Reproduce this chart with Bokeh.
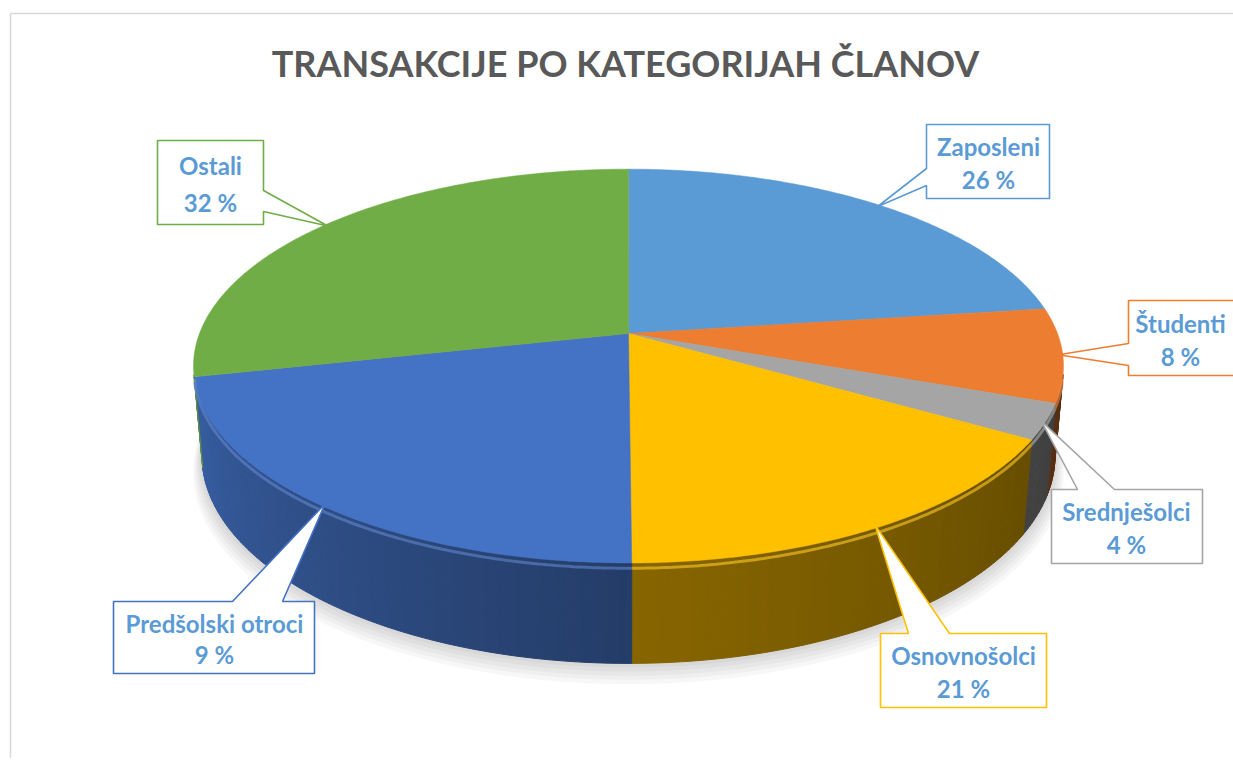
import math
from bokeh.plotting import figure
from bokeh.models import Range1d, ColumnDataSource
from bokeh.core.properties import value
from bokeh.embed import file_html
from bokeh.resources import INLINE

# ---------------- data ----------------
title_text = "TRANSAKCIJE PO KATEGORIJAH ČLANOV"
categories = ["Zaposleni", "Študenti", "Srednješolci", "Osnovnošolci", "Predšolski otroci", "Ostali"]
# slice sizes as drawn in the picture (share of the full circle, %)
shares = [22.9, 7.7, 2.9, 16.4, 21.6, 28.5]
# data-label texts as printed on the chart
pct_labels = ["26 %", "8 %", "4 %", "21 %", "9 %", "32 %"]
colors = ["#5B9BD5", "#ED7D31", "#A5A5A5", "#FFC000", "#4472C4", "#70AD47"]

# ---------------- layout / style ----------------
W, H = 1233, 758
X0, Y0 = 0, 0
CX, CY = 628.0, 333.0          # screen position of the pie centre
SIN_PHI = 0.4465               # camera elevation
COS_PHI = math.sqrt(1 - SIN_PHI ** 2)
K = 0.1653                     # perspective strength
D = COS_PHI / K                # camera distance (radius = 1)
F = 429.0 * D                  # focal scale
T = 0.235                      # thickness of the pie (radius = 1)

LABEL_COLOR = "#5B9BD5"
FONT = value("Lato")

# callout boxes (x0, y0, x1, y1), pointer side, pointer base, text x
callouts = [
    ((926, 124, 1049, 198), "left", (168, 185), 988),
    ((1128, 300, 1245, 375), "left", (343, 365), 1180),
    ((1051, 489, 1202, 563), "top", (1077, 1114), 1126),
    ((880, 633, 1046, 707), "top", (908, 949), 963),
    ((113, 601, 314, 673), "top", (232, 282), 214),
    ((157, 140, 263, 224), "right", (190, 211), 210),
]


def proj(theta_deg, h=0.0, r=1.0):
    t = math.radians(theta_deg)
    c, s = r * math.cos(t), r * math.sin(t)
    depth = D - h * SIN_PHI + s * COS_PHI
    yc = h * COS_PHI + s * SIN_PHI
    return CX + F * c / depth, CY - F * yc / depth


def shade(hex_color, f):
    hc = hex_color.lstrip("#")
    rgb = [int(hc[i:i + 2], 16) for i in (0, 2, 4)]
    rgb = [max(0, min(255, int(round(v * f)))) for v in rgb]
    return "#%02x%02x%02x" % tuple(rgb)


def lighten(hex_color, a):
    hc = hex_color.lstrip("#")
    rgb = [int(hc[i:i + 2], 16) for i in (0, 2, 4)]
    rgb = [int(round(v + (255 - v) * a)) for v in rgb]
    return "#%02x%02x%02x" % tuple(rgb)


def side_factor(theta):
    u = theta % 360.0
    if u < 180:
        u = 180.0
    if u <= 270:
        return 0.88 + (0.53 - 0.88) * (u - 180) / 90.0
    return 0.53 + (0.34 - 0.53) * (u - 270) / 90.0


total = float(sum(shares))
bounds = [90.0]
for v in shares:
    bounds.append(bounds[-1] - 360.0 * v / total)

vis_limit = -1.0 / (D * COS_PHI)   # side visible when sin(theta) < vis_limit

p = figure(width=W, height=H, x_range=Range1d(X0, X0 + W), y_range=Range1d(Y0 + H, Y0),
           toolbar_location=None, output_backend="svg", min_border=0,
           x_axis_type=None, y_axis_type=None)
p.grid.visible = False
p.outline_line_color = None
p.background_fill_color = "white"
p.border_fill_color = "white"

# chart frame (left and top edges visible)
p.line(x=[10, 10], y=[Y0 + H, 13], line_color="#d9d9d9", line_width=1.5)
p.line(x=[10, X0 + W], y=[13, 13], line_color="#d9d9d9", line_width=1.5)

# soft shadow under the pie
for k_off in range(1, 6):
    pts = [proj(a, -T, 1.0 + 0.004 * k_off) for a in range(0, 361, 2)]
    p.patch(x=[q[0] for q in pts], y=[q[1] + 3 * k_off for q in pts],
            fill_color="black", fill_alpha=0.03, line_color=None)

# side walls
sx, sy, sc = [], [], []
step = 0.75
for i in range(len(shares)):
    a0, a1 = bounds[i], bounds[i + 1]
    t = a1
    while t < a0 - 1e-9:
        t2 = min(t + step, a0)
        tm = 0.5 * (t + t2)
        if math.sin(math.radians(tm)) < vis_limit:
            q = [proj(t, 0), proj(t2, 0), proj(t2, -T), proj(t, -T)]
            sx.append([pt[0] for pt in q])
            sy.append([pt[1] for pt in q])
            sc.append(shade(colors[i], side_factor(tm)))
        t = t2
p.patches(xs="xs", ys="ys", fill_color="c", line_color="c", line_width=1.0,
          source=ColumnDataSource(dict(xs=sx, ys=sy, c=sc)))

# top faces
tx, ty = [], []
for i in range(len(shares)):
    a0, a1 = bounds[i], bounds[i + 1]
    n = max(4, int(abs(a0 - a1) / 0.5))
    pts = [(CX, CY)] + [proj(a0 + (a1 - a0) * j / n, 0) for j in range(n + 1)]
    tx.append([q[0] for q in pts])
    ty.append([q[1] for q in pts])
p.patches(xs="xs", ys="ys", fill_color="c", line_color="c", line_width=0.5,
          source=ColumnDataSource(dict(xs=tx, ys=ty, c=colors)))

# bevel highlight along the visible front rim
for i in range(len(shares)):
    a0, a1 = bounds[i], bounds[i + 1]
    n = max(4, int(abs(a0 - a1) / 0.5))
    pts = []
    for j in range(n + 1):
        a = a1 + (a0 - a1) * j / n
        if math.sin(math.radians(a)) < vis_limit:
            pts.append(proj(a, -0.012))
    if len(pts) > 1:
        p.line(x=[q[0] for q in pts], y=[q[1] for q in pts],
               line_color=lighten(colors[i], 0.15), line_width=3, line_alpha=0.6)

# callouts
for i, (box, side, base, txt_x) in enumerate(callouts):
    x0, y0, x1, y1 = box
    mid = 0.5 * (bounds[i] + bounds[i + 1])
    tipx, tipy = proj(mid, 0, 0.99)
    if side == "left":
        poly = [(x0, y0), (x1, y0), (x1, y1), (x0, y1), (x0, base[1]), (tipx, tipy), (x0, base[0])]
    elif side == "right":
        poly = [(x0, y0), (x1, y0), (x1, base[0]), (tipx, tipy), (x1, base[1]), (x1, y1), (x0, y1)]
    else:
        poly = [(x0, y0), (base[0], y0), (tipx, tipy), (base[1], y0), (x1, y0), (x1, y1), (x0, y1)]
    p.patch(x=[q[0] for q in poly], y=[q[1] for q in poly], fill_color="white",
            line_color=colors[i], line_width=1.6)
    h = y1 - y0
    p.text(x=[txt_x, txt_x], y=[y0 + 0.30 * h, y0 + 0.74 * h],
           text=[categories[i], pct_labels[i]], text_font=FONT, text_font_style="bold",
           text_font_size="24px", text_color=LABEL_COLOR, text_align="center",
           text_baseline="middle")

# title
p.text(x=[625], y=[62], text=[title_text], text_font=FONT, text_font_style="bold",
       text_font_size="36px", text_color="#595959", text_align="center", text_baseline="middle")

open("out.html", "w").write(file_html(p, INLINE))
